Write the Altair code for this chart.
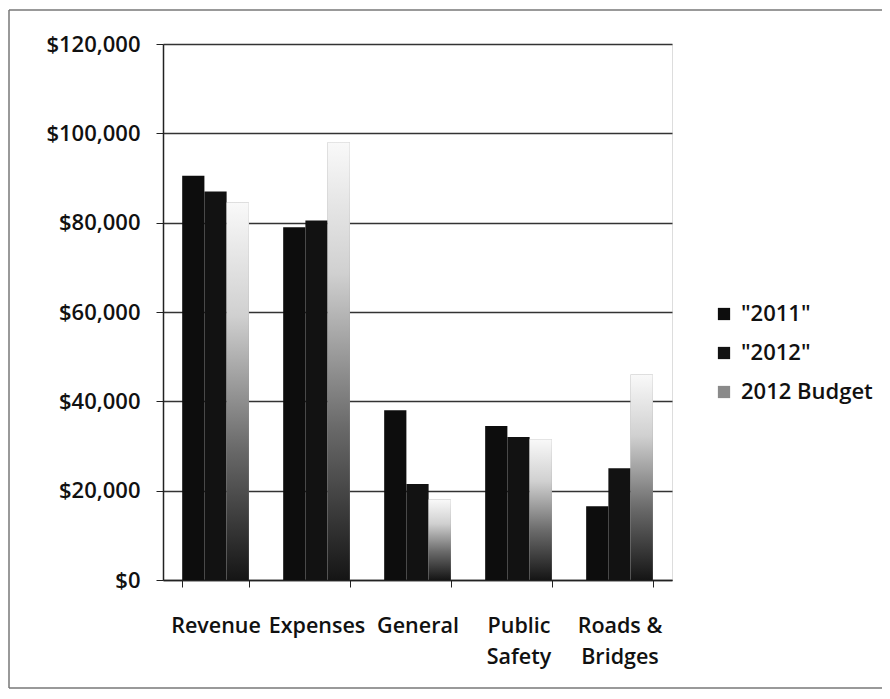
import altair as alt
import pandas as pd

categories = ["Revenue", "Expenses", "General", "Public Safety", "Roads & Bridges"]
series = ['"2011"', '"2012"', "2012 Budget"]
v2011 = [90500, 79000, 38000, 34500, 16500]
v2012 = [87000, 80500, 21500, 32000, 25000]
vbudget = [84500, 98000, 18000, 31500, 46000]

rows = []
for i, c in enumerate(categories):
    rows.append({"category": c, "series": series[0], "value": v2011[i]})
    rows.append({"category": c, "series": series[1], "value": v2012[i]})
    rows.append({"category": c, "series": series[2], "value": vbudget[i]})
df = pd.DataFrame(rows)

FONT = "Open Sans"

x_enc = alt.X(
    "category:N",
    sort=categories,
    scale=alt.Scale(paddingInner=0.34, paddingOuter=0.19),
    axis=alt.Axis(
        title=None,
        labelAngle=0,
        labelFontSize=21.5,
        labelFont=FONT,
        labelFontWeight=600,
        labelColor="#111",
        labelPadding=28,
        labelOverlap=False,
        labelLineHeight=31,
        labelBaseline="top",
        tickBand="extent",
        tickSize=7,
        tickColor="#222",
        domainColor="#222",
        domainWidth=1.5,
        grid=False,
        labelExpr="datum.label == 'Public Safety' ? ['Public', 'Safety'] : datum.label == 'Roads & Bridges' ? ['Roads &', 'Bridges'] : datum.label",
    ),
)
xo = alt.XOffset("series:N", sort=series, scale=alt.Scale(domain=series, paddingInner=0))
y_enc = alt.Y(
    "value:Q",
    scale=alt.Scale(domain=[0, 120000]),
    axis=alt.Axis(
        title=None,
        format="$,.0f",
        values=[0, 20000, 40000, 60000, 80000, 100000, 120000],
        labelFontSize=22,
        labelFont=FONT,
        labelFontWeight=600,
        labelColor="#111",
        labelPadding=16,
        tickSize=7,
        tickColor="#222",
        domainColor="#222",
        domainWidth=1.5,
        gridColor="#333",
        gridWidth=1.5,
    ),
)

base = alt.Chart(df)

bars = base.mark_bar().encode(
    x=x_enc,
    xOffset=xo,
    y=y_enc,
    color=alt.Color(
        "series:N",
        sort=series,
        scale=alt.Scale(domain=series, range=["#0d0d0d", "#121212", "#8a8a8a"]),
        legend=alt.Legend(
            title=None,
            orient="none",
            legendX=550,
            legendY=259,
            symbolType="square",
            symbolSize=150,
            symbolStrokeWidth=0,
            labelFontSize=22,
            labelFont=FONT,
            labelFontWeight=600,
            labelColor="#111",
            rowPadding=17,
            labelOffset=6,
        ),
    ),
)

grad = alt.Gradient(
    gradient="linear",
    stops=[
        alt.GradientStop(color="#f9f9f9", offset=0),
        alt.GradientStop(color="#d0d0d0", offset=0.3),
        alt.GradientStop(color="#6a6a6a", offset=0.65),
        alt.GradientStop(color="#151515", offset=1),
    ],
    x1=0, x2=0, y1=0, y2=1,
)

budget = base.transform_filter(alt.datum.series == "2012 Budget").mark_bar(color=grad).encode(
    x=x_enc,
    xOffset=xo,
    y=y_enc,
)

frame_src = pd.DataFrame({"a": [0]})
frame_top = alt.Chart(frame_src).mark_rule(stroke="#777", strokeWidth=1.5).encode(
    x=alt.value(-154), x2=alt.value(720), y=alt.value(-34)
)
frame_left = alt.Chart(frame_src).mark_rule(stroke="#777", strokeWidth=1.5).encode(
    x=alt.value(-154), y=alt.value(-34), y2=alt.value(644)
)
frame_bottom = alt.Chart(frame_src).mark_rule(stroke="#777", strokeWidth=1.5).encode(
    x=alt.value(-154), x2=alt.value(720), y=alt.value(644)
)

chart = alt.layer(bars, budget, frame_top, frame_left, frame_bottom).properties(
    width=509,
    height=536,
    autosize=alt.AutoSizeParams(type="none"),
    padding={"left": 155, "top": 36, "right": 210, "bottom": 110},
).configure_view(stroke=None).configure(background="white")

chart.save("out.html", embed_options={"renderer": "svg", "actions": False})
